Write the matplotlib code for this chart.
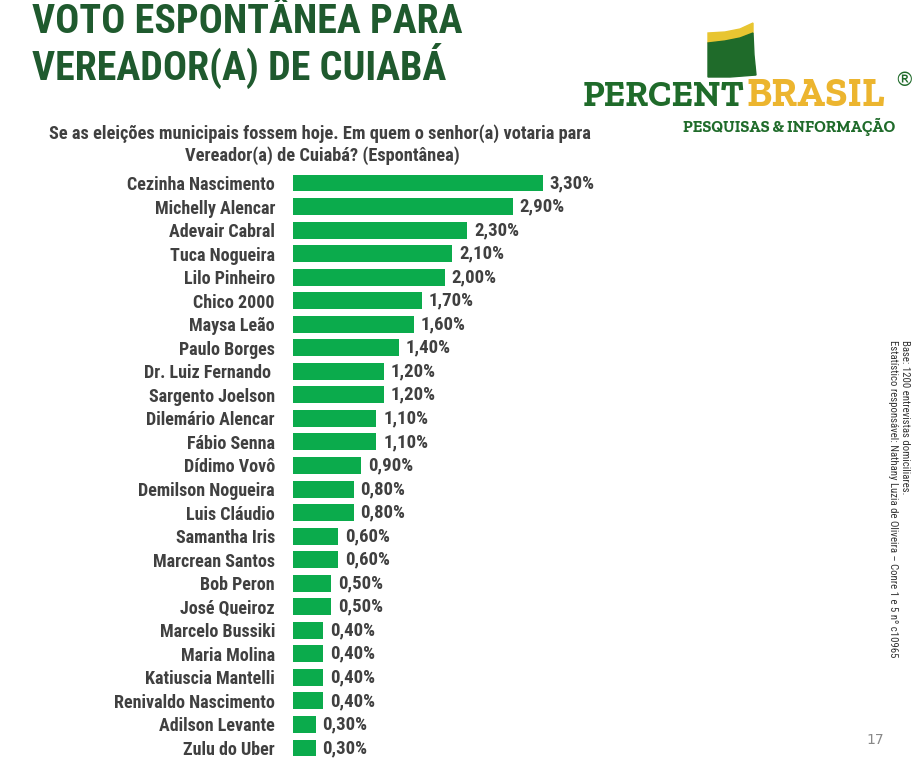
import matplotlib
matplotlib.use("Agg")
from matplotlib import pyplot as plt
from matplotlib import font_manager
from matplotlib.patches import Polygon

names = ["Cezinha Nascimento", "Michelly Alencar", "Adevair Cabral", "Tuca Nogueira",
         "Lilo Pinheiro", "Chico 2000", "Maysa Leão", "Paulo Borges",
         "Dr. Luiz Fernando ", "Sargento Joelson", "Dilemário Alencar", "Fábio Senna",
         "Dídimo Vovô", "Demilson Nogueira", "Luis Cláudio", "Samantha Iris",
         "Marcrean Santos", "Bob Peron", "José Queiroz", "Marcelo Bussiki",
         "Maria Molina", "Katiuscia Mantelli", "Renivaldo Nascimento", "Adilson Levante",
         "Zulu do Uber"]
values = [3.3, 2.9, 2.3, 2.1, 2.0, 1.7, 1.6, 1.4, 1.2, 1.2, 1.1, 1.1, 0.9, 0.8, 0.8,
          0.6, 0.6, 0.5, 0.5, 0.4, 0.4, 0.4, 0.4, 0.3, 0.3]
value_labels = [f"{v:.2f}%".replace(".", ",") for v in values]


def first_font(cands):
    have = {f.name for f in font_manager.fontManager.ttflist}
    for c in cands:
        if c in have:
            return c
    return "DejaVu Sans"


narrow = first_font(["Roboto Condensed", "Archivo Narrow", "PT Sans Narrow",
                     "Barlow Semi Condensed", "Liberation Sans Narrow"])
slab = first_font(["Roboto Slab", "Zilla Slab", "Bitter", "Liberation Serif"])

W, H = 920, 769
fig = plt.figure(figsize=(W / 100, H / 100), dpi=100)
fig.patch.set_facecolor("white")
renderer = fig.canvas.get_renderer()


def px(x, y):
    return x / W, 1 - y / H


def fit(t, width_px, horizontal=True):
    # scale a text's font size so it spans the given pixel length
    bb = t.get_window_extent(renderer)
    cur = bb.width if horizontal else bb.height
    t.set_fontsize(t.get_fontsize() * width_px / cur)
    return t


# bars: value 0 at x=293 px, 3.3% ends at 543 px, rows 183..748 px
scale = 250 / 3.3
x0, x1 = 293, 870
y_top, y_bot = 183 - 11.77, 748 + 11.77
ax = fig.add_axes([x0 / W, 1 - y_bot / H, (x1 - x0) / W, (y_bot - y_top) / H])
ypos = list(range(len(names)))
ax.barh(ypos, values, height=0.72, color="#0bab4c")
ax.set_xlim(0, (x1 - x0) / scale)
ax.set_ylim(len(names) - 0.5, -0.5)
ax.set_yticks(ypos)
ax.set_yticklabels(names, fontfamily=narrow, fontweight="bold", fontsize=13, color="#404040")
ax.tick_params(axis="y", length=0, pad=13)
ax.set_xticks([])
for s in ax.spines.values():
    s.set_visible(False)
for y, v, lab in zip(ypos, values, value_labels):
    ax.text(v + 0.09, y, lab, va="center", ha="left", fontfamily=narrow,
            fontweight="bold", fontsize=13.5, color="#404040")

# title
green = "#1f5a2e"
t1 = fig.text(*px(32, 22), "VOTO ESPONTÂNEA PARA", fontfamily=narrow, fontweight="bold",
              fontsize=30, color=green, va="center", ha="left")
fit(t1, 430)
fig.text(*px(32, 66), "VEREADOR(A) DE CUIABÁ", fontfamily=narrow, fontweight="bold",
         fontsize=t1.get_fontsize(), color=green, va="center", ha="left")

# question
q1 = fig.text(*px(320, 134), "Se as eleições municipais fossem hoje. Em quem o senhor(a) votaria para",
              fontfamily=narrow, fontweight="bold", fontsize=12.5, color="#404040",
              ha="center", va="center")
fit(q1, 545)
fig.text(*px(322, 156), "Vereador(a) de Cuiabá? (Espontânea)",
         fontfamily=narrow, fontweight="bold", fontsize=q1.get_fontsize(), color="#404040",
         ha="center", va="center")

# logo flag
la = fig.add_axes([0, 0, 1, 1], zorder=-1)
la.set_xlim(0, W)
la.set_ylim(H, 0)
la.axis("off")
la.add_patch(Polygon([(708, 33), (725, 32), (740, 29), (753, 23), (753, 33), (740, 38), (725, 41), (708, 43)],
                     closed=True, color="#e8c531"))
la.add_patch(Polygon([(708, 43), (725, 41), (740, 38), (753, 33), (754, 55), (756, 75), (730, 77), (708, 77)],
                     closed=True, color="#1f6b2a"))

p1 = fig.text(*px(583, 97), "PERCENT", fontfamily=slab, fontweight="bold",
              fontsize=30, color="#1f6b2a", ha="left", va="center")
fit(p1, 162)
p2 = fig.text(*px(746, 97), "BRASIL", fontfamily=slab, fontweight="bold",
              fontsize=p1.get_fontsize(), color="#ecb52f", ha="left", va="center")
fit(p2, 138)
fig.text(*px(904, 80), "®", fontfamily="DejaVu Sans", fontsize=14, color="#1f6b2a",
         ha="center", va="center")
p3 = fig.text(*px(789, 127), "PESQUISAS & INFORMAÇÃO", fontfamily=slab,
              fontweight="bold", fontsize=11.5, color="#1f6b2a", ha="center", va="center")
fit(p3, 212)

# side note
sn = fig.text(*px(899, 340), "Base: 1200 entrevistas domiciliares.\n"
              "Estatístico responsável: Nathany Luzia de Oliveira – Conre 1 e 5 nº c10965",
              fontfamily=narrow, fontsize=7.5, color="#333333", rotation=-90,
              ha="center", va="top", multialignment="left", linespacing=1.15)
fit(sn, 316, horizontal=False)

fig.text(*px(875, 740), "17", fontsize=10, color="#888888", ha="center", va="center")

fig.savefig("out.png", dpi=100)
